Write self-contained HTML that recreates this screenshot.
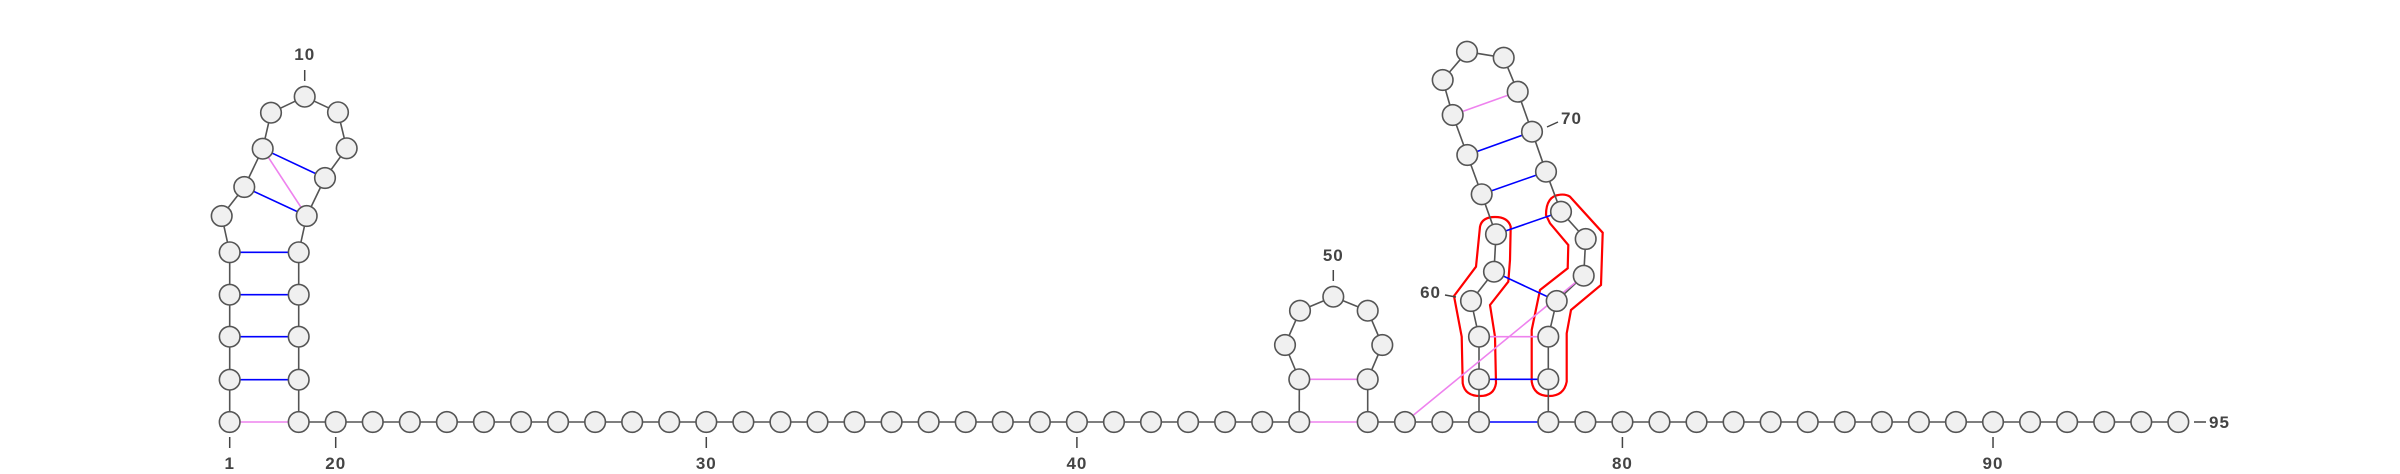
<!DOCTYPE html>
<html><head><meta charset="utf-8"><style>
html,body{margin:0;padding:0;background:#fff;width:2400px;height:474px;overflow:hidden}
text{font-family:"Liberation Sans","DejaVu Sans",sans-serif;font-weight:bold;font-size:17px;fill:#444;letter-spacing:1px}
</style></head><body>
<svg id="chart" width="2400" height="474" viewBox="0 0 2400 474" xmlns="http://www.w3.org/2000/svg">
<g id="pk">
<path fill="none" stroke="#f00" stroke-width="2.2" d="M1476,266.7 L1480,226.7 Q1482,217 1495,217 Q1508,217 1510.7,226.7 L1510,260 L1508.3,281.7 L1490,305 L1495,336.7 L1496,383.3 Q1494,396 1480,396 Q1465,396 1462.7,383.3 L1461.7,336.7 L1454,296 Z"/>
<path fill="none" stroke="#f00" stroke-width="2.2" d="M1550,223.3 L1546,215 Q1546,196 1560,194.7 Q1566,194 1570,196.7 L1602.7,232.7 L1601,285 L1571,310 L1566.7,333.3 L1566.7,381.7 Q1564,396 1549,396 Q1534,396 1531.7,381.7 L1531.7,330 L1540,290 L1567.7,268.3 L1568.3,245 Z"/>
</g>
<g id="bb"></g><g id="pairs"></g><g id="nodes"></g><g id="labels"></g>
</svg>
<script>
// nucleotide indices (1..95) and pair lists
const canonicalPairs=[[2,18],[3,17],[4,16],[5,15],[7,14],[8,13],[57,78],[58,77],[61,75],[62,72],[63,71],[64,70]];
const nonCanonicalPairs=[[1,19],[8,14],[46,54],[47,53],[59,76],[65,69],[55,74]];
const tickNums=[1,20,30,40,80,90];
const NS="http://www.w3.org/2000/svg";
const P={};
const step=37.06;
P[1]=[229.7,422];P[2]=[229.7,379.7];P[3]=[229.7,336.7];P[4]=[229.7,294.7];P[5]=[229.7,252.3];
P[6]=[221.7,216];P[7]=[244.3,187];P[8]=[262.7,148.7];P[9]=[271,112.7];P[10]=[304.7,96.7];
P[11]=[338,112.3];P[12]=[346.7,148.3];P[13]=[325,178];P[14]=[306.7,216];
P[15]=[298.7,252.3];P[16]=[298.7,294.7];P[17]=[298.7,336.7];P[18]=[298.7,379.7];P[19]=[298.7,422];
for(let i=20;i<=46;i++)P[i]=[335.7+(i-20)*step,422];
P[47]=[1299.3,379.3];P[48]=[1285,345];P[49]=[1300,310.7];P[50]=[1333.3,296.7];P[51]=[1367.7,310.7];
P[52]=[1382.3,345];P[53]=[1367.7,379.3];P[54]=[1367.7,422];P[55]=[1405,422];P[56]=[1442.3,422];P[57]=[1479,422];
P[58]=[1479,379.3];P[59]=[1479,336.7];P[60]=[1471,301];P[61]=[1494,271.7];P[62]=[1496,234.3];
P[63]=[1481.7,194.3];P[64]=[1467.3,155];P[65]=[1452.7,115];P[66]=[1442.7,80];P[67]=[1467,51.7];
P[68]=[1503.7,57.7];P[69]=[1517.7,91.7];P[70]=[1532,131.7];P[71]=[1546,171.7];P[72]=[1561,211.7];
P[73]=[1585.7,239];P[74]=[1583.7,275.7];P[75]=[1556.7,301];P[76]=[1548.3,336.7];P[77]=[1548.3,379.3];
for(let i=78;i<=95;i++)P[i]=[1548.3+(i-78)*step,422];
function mk(t,a,par){const e=document.createElementNS(NS,t);for(const k in a)e.setAttribute(k,a[k]);par.appendChild(e);return e;}
const bb=document.getElementById('bb'),pg=document.getElementById('pairs'),ng=document.getElementById('nodes'),lg=document.getElementById('labels');
for(let i=1;i<95;i++){const l=mk('line',{x1:P[i][0],y1:P[i][1],x2:P[i+1][0],y2:P[i+1][1],stroke:'#555','stroke-width':1.6},bb);

}
nonCanonicalPairs.forEach(p=>{const l=mk('line',{x1:P[p[0]][0],y1:P[p[0]][1],x2:P[p[1]][0],y2:P[p[1]][1],stroke:'#ee82ee','stroke-width':1.6},pg);

});
canonicalPairs.forEach(p=>{const l=mk('line',{x1:P[p[0]][0],y1:P[p[0]][1],x2:P[p[1]][0],y2:P[p[1]][1],stroke:'#0000ff','stroke-width':1.6},pg);

});
for(let i=1;i<=95;i++){const c=mk('circle',{cx:P[i][0],cy:P[i][1],r:10.3,fill:'#f0f0f0',stroke:'#555','stroke-width':1.6},ng);

}
function lab(txt,x,y,anchor,nm){const t=mk('text',{x:x,y:y,'text-anchor':anchor},lg);t.textContent=txt;

}
function tk(x1,y1,x2,y2){const l=mk('line',{x1,y1,x2,y2,stroke:'#444','stroke-width':1.5},lg);

}
tickNums.forEach(n=>{const x=P[n][0];tk(x,437,x,448);lab(String(n),x,469,'middle','position-label-'+n);});
tk(304.7,70,304.7,81);lab('10',304.7,60,'middle','position-label-10');
tk(1333.3,270,1333.3,281);lab('50',1333.3,261,'middle','position-label-50');
tk(1445,295,1456,297);lab('60',1441,298,'end','position-label-60');
tk(1547,127,1558,122);lab('70',1561,124,'start','position-label-70');
tk(2194,422,2206,422);lab('95',2209,428,'start','position-label-95');
</script>
</body></html>
